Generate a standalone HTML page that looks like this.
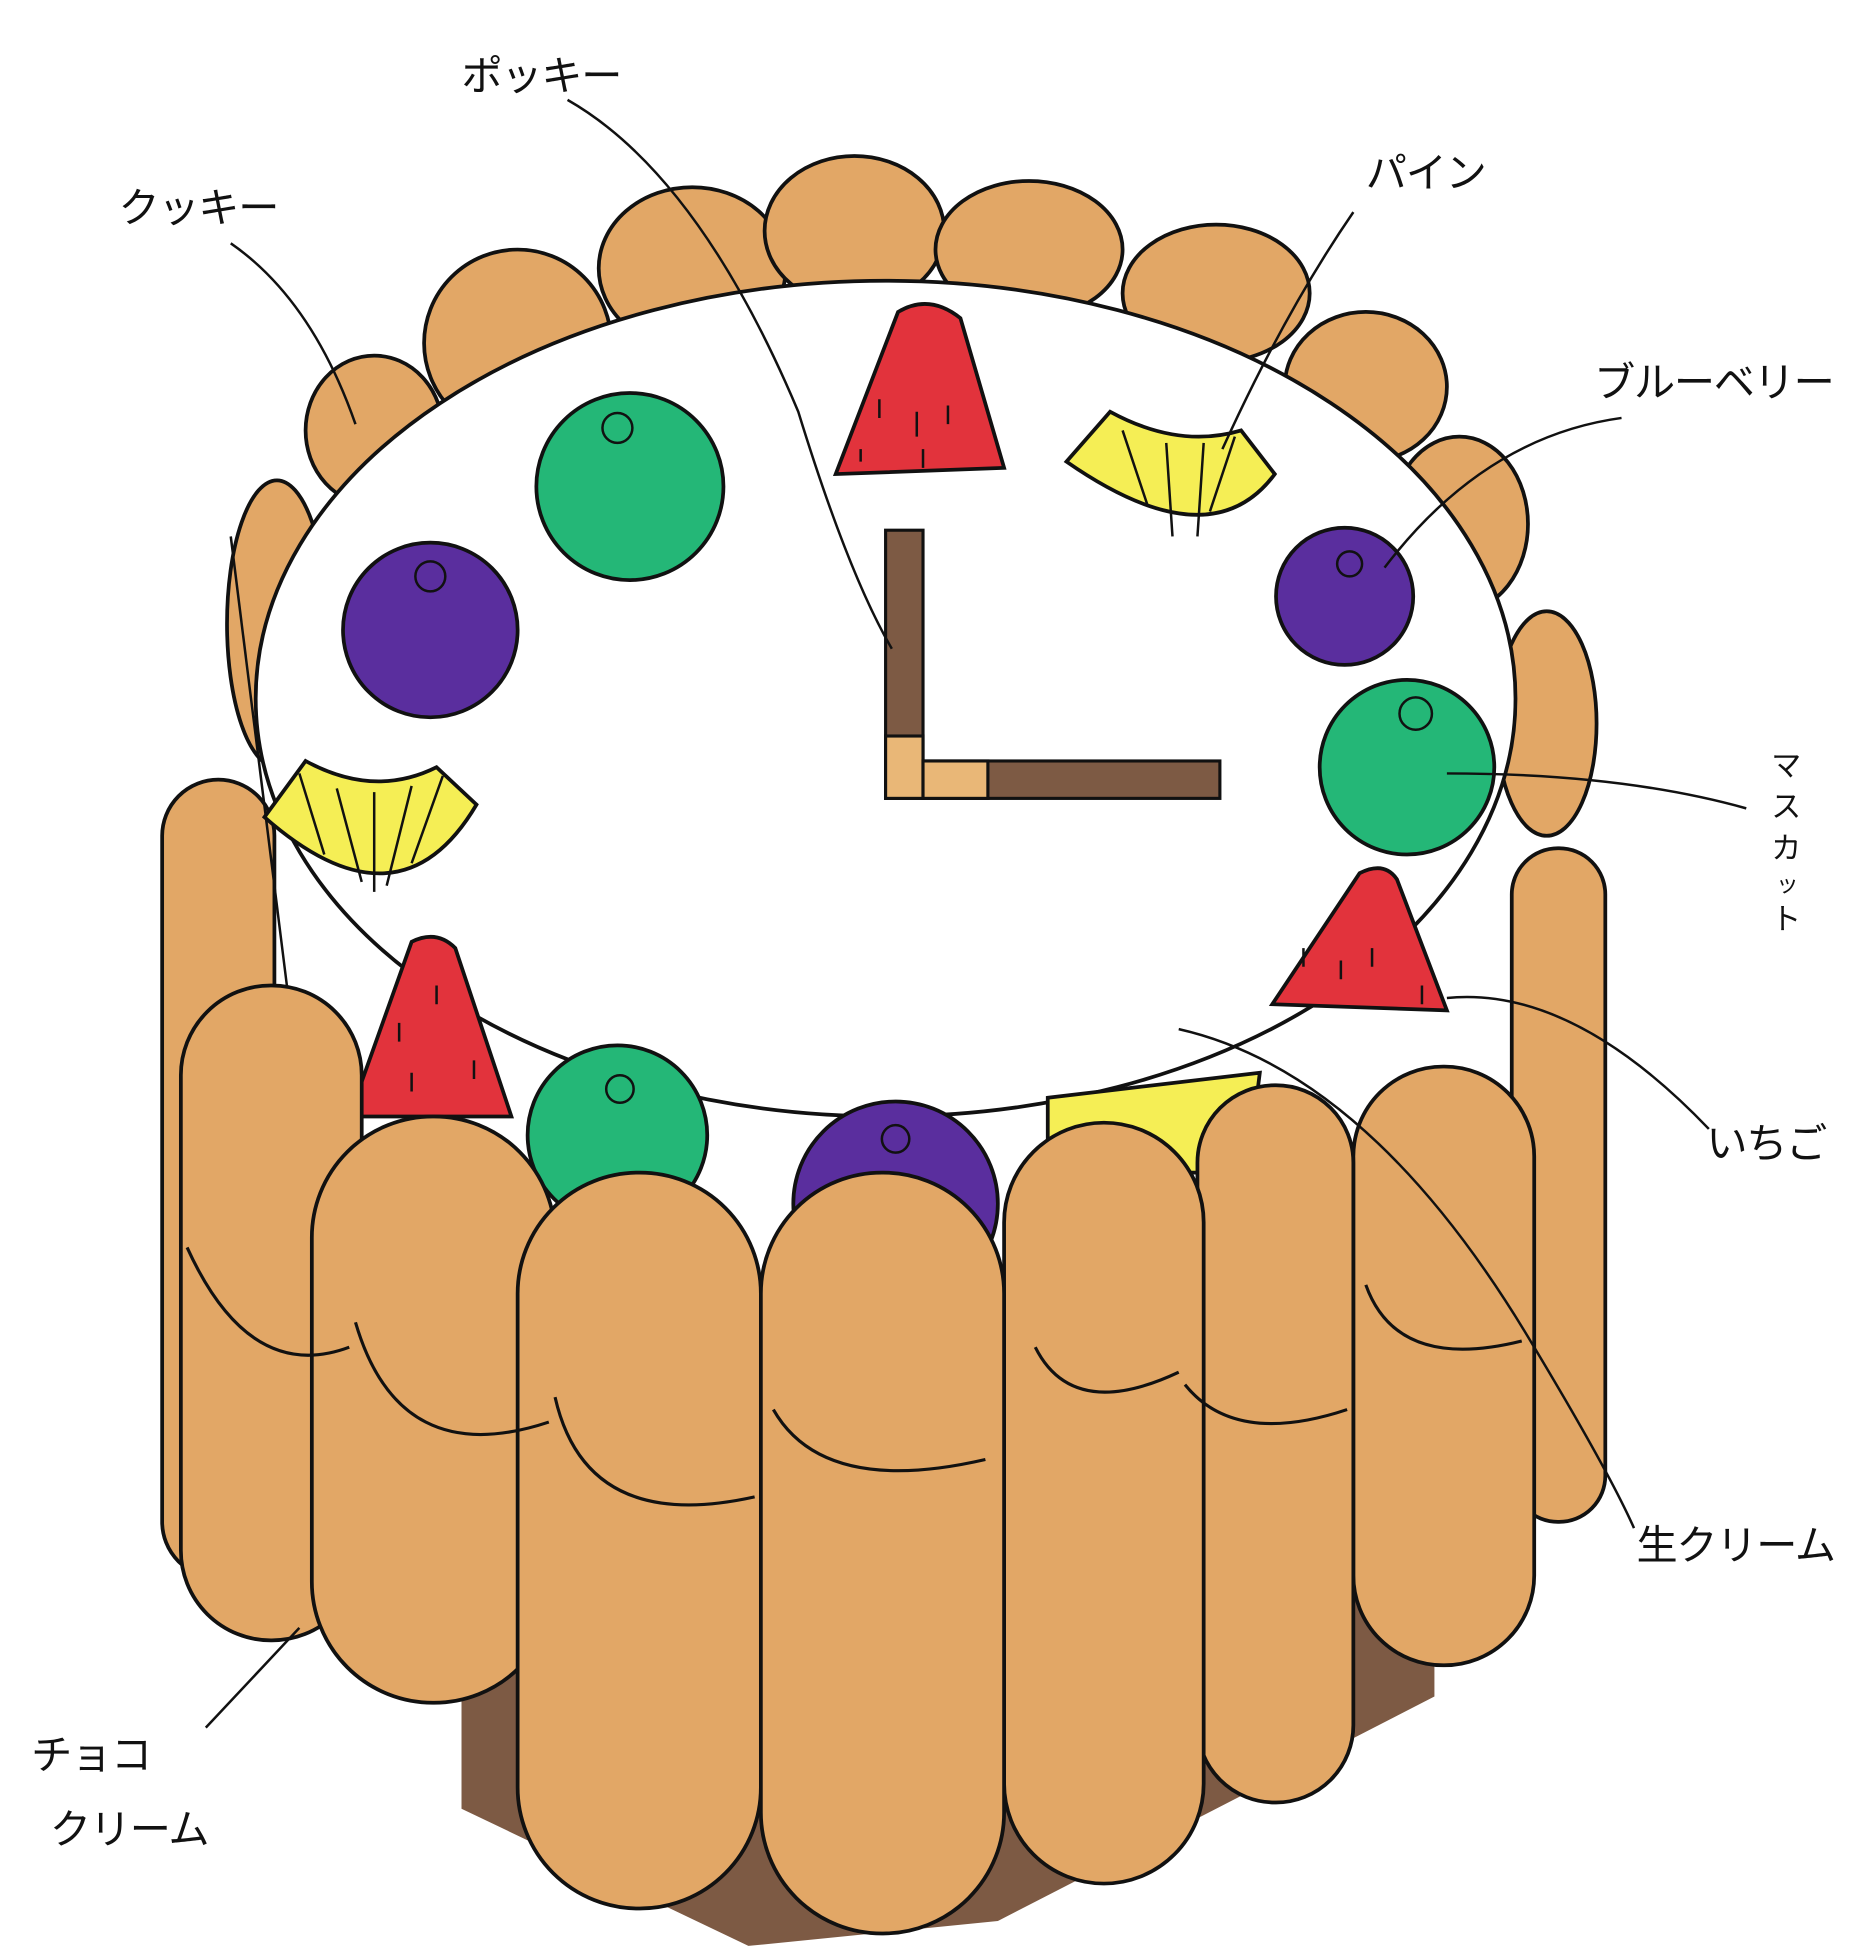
<!DOCTYPE html>
<html><head><meta charset="utf-8"><style>
html,body{margin:0;padding:0;background:#fff}
svg{display:block}
text{font-family:"Liberation Sans","Noto Sans CJK JP",sans-serif;fill:#111}
</style></head><body>
<svg width="1866" height="1956" viewBox="0 0 1496 1568" xmlns="http://www.w3.org/2000/svg">
<g stroke="#111" stroke-width="3" fill="#e2a766">
<ellipse cx="300" cy="345" rx="55" ry="60"/>
<ellipse cx="415" cy="275" rx="75" ry="75"/>
<ellipse cx="555" cy="215" rx="75" ry="65"/>
<ellipse cx="685" cy="185" rx="72" ry="60"/>
<ellipse cx="825" cy="200" rx="75" ry="55"/>
<ellipse cx="975" cy="235" rx="75" ry="55"/>
<ellipse cx="1095" cy="310" rx="65" ry="60"/>
<ellipse cx="1170" cy="420" rx="55" ry="70"/>
<ellipse cx="1240" cy="580" rx="40" ry="90"/>
<ellipse cx="222" cy="500" rx="40" ry="115"/>
<rect x="130" y="625" width="90" height="640" rx="45"/>
<rect x="1212" y="680" width="75" height="540" rx="37"/>
</g>
<ellipse cx="710" cy="560" rx="505" ry="335" fill="#fff" stroke="#111" stroke-width="3"/>
<path d="M370 1090 L1150 1090 L1150 1360 L800 1540 L600 1560 L370 1450 Z" fill="#7d5a44"/>
<g stroke="#111" stroke-width="3">
<path d="M720 250 Q745 235 770 255 L805 375 L670 380 Z" fill="#e2333c"/>
<path d="M1090 700 Q1110 690 1120 705 L1160 810 L1020 805 Z" fill="#e2333c"/>
<path d="M330 755 Q350 745 365 760 L410 895 L280 895 Z" fill="#e2333c"/>
<circle cx="505" cy="390" r="75" fill="#24b777"/>
<circle cx="1128" cy="615" r="70" fill="#24b777"/>
<circle cx="495" cy="910" r="72" fill="#24b777"/>
<circle cx="345" cy="505" r="70" fill="#5a2e9e"/>
<circle cx="1078" cy="478" r="55" fill="#5a2e9e"/>
<circle cx="718" cy="965" r="82" fill="#5a2e9e"/>
<path d="M855 370 L890 330 Q945 360 995 345 L1022 380 Q970 450 855 370 Z" fill="#f5ee55"/>
<path d="M212 655 L245 610 Q300 640 350 615 L382 645 Q320 750 212 655 Z" fill="#f5ee55"/>
<path d="M840 880 L1010 860 L1000 940 L840 940 Z" fill="#f5ee55"/>
</g>
<g stroke="#111" stroke-width="2" fill="none">
<circle cx="495" cy="343" r="12"/><circle cx="1135" cy="572" r="13"/><circle cx="345" cy="462" r="12"/>
<circle cx="1082" cy="452" r="10"/><circle cx="497" cy="873" r="11"/><circle cx="718" cy="913" r="11"/>
<path d="M705 320v15M735 330v20M760 325v15M690 360v10M740 360v15M1045 760v15M1075 770v15M1100 760v15M1140 790v15M320 820v15M350 790v15M380 850v15M330 860v15"/>
<path d="M900 345l20 60M935 355l5 75M965 355l-5 75M990 350l-20 60M240 620l20 65M270 632l20 75M300 635l0 80M330 630l-20 80M355 622l-25 70"/>
</g>
<g stroke="#111" stroke-width="2.5">
<rect x="710" y="425" width="30" height="215" fill="#7d5a44"/>
<rect x="710" y="590" width="30" height="50" fill="#e9b777"/>
<rect x="740" y="610" width="238" height="30" fill="#7d5a44"/>
<rect x="740" y="610" width="52" height="30" fill="#e9b777"/>
</g>
<g stroke="#111" stroke-width="3" fill="#e2a766">
<rect x="1085" y="855" width="145" height="480" rx="72"/>
<rect x="960" y="870" width="125" height="575" rx="62"/>
<rect x="145" y="790" width="145" height="525" rx="72"/>
<rect x="250" y="895" width="195" height="470" rx="97"/>
<rect x="805" y="900" width="160" height="610" rx="80"/>
<rect x="415" y="940" width="195" height="590" rx="97"/>
<rect x="610" y="940" width="195" height="610" rx="97"/>
</g>
<g stroke="#111" stroke-width="2.5" fill="none">
<path d="M150 1000 Q200 1110 280 1080"/><path d="M285 1060 Q320 1180 440 1140"/>
<path d="M445 1120 Q470 1230 605 1200"/><path d="M620 1130 Q660 1200 790 1170"/>
<path d="M830 1080 Q860 1140 945 1100"/><path d="M950 1110 Q990 1160 1080 1130"/>
<path d="M1095 1030 Q1120 1100 1220 1075"/>
</g>
<g stroke="#111" stroke-width="2" fill="none">
<path d="M185 195 Q250 240 285 340"/>
<path d="M455 80 Q560 140 640 330 Q680 460 715 520"/>
<path d="M1085 170 Q1030 250 980 360"/>
<path d="M1300 335 Q1190 350 1110 455"/>
<path d="M1160 620 Q1300 620 1400 648"/>
<path d="M1160 800 Q1260 790 1370 905"/>
<path d="M945 825 Q1100 860 1230 1080 Q1290 1180 1310 1225"/>
<path d="M165 1385 L240 1305"/>
<path d="M185 430 Q200 550 230 790"/>
</g>
<g font-size="33" letter-spacing="-1">
<text x="95" y="178">クッキー</text>
<text x="370" y="72">ポッキー</text>
<text x="1095" y="150">パイン</text>
<text x="1278" y="318">ブルーベリー</text>
<text x="1312" y="1250">生クリーム</text>
<text x="1368" y="928">いちご</text>
<text x="25" y="1418">チョコ</text>
<text x="40" y="1478">クリーム</text>
</g>
<g font-size="24">
<text x="1420" y="622">マ</text><text x="1420" y="655">ス</text><text x="1420" y="688">カ</text><text x="1424" y="715" font-size="18">ッ</text><text x="1420" y="745">ト</text>
</g>
</svg>
</body></html>
